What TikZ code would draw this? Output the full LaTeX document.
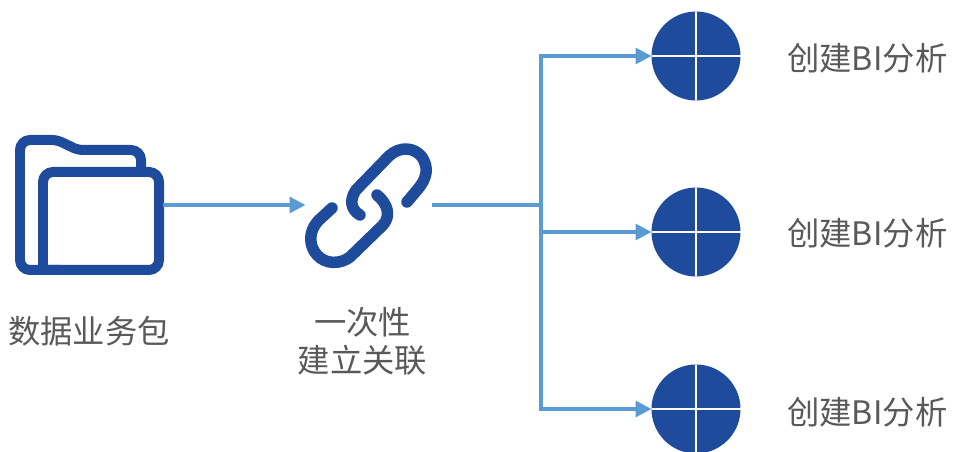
\documentclass[tikz,border=0pt]{standalone}
\usepackage{fontspec}
\setmainfont{Noto Sans CJK SC}
\usetikzlibrary{positioning, arrows.meta}

\definecolor{iconblue}{HTML}{1E4B9B}
\definecolor{lineblue}{HTML}{5B9BD5}
\definecolor{textgray}{HTML}{595959}

\begin{document}
\begin{tikzpicture}[
    x=0.02cm, y=-0.02cm,
    % Styles
    icon/.style={ % Folder and chain outlines
        draw=iconblue,
        line width=0.2cm,
        line cap=round,
        line join=round
    },
    box/.style={ % Invisible frame round an icon
        inner sep=0pt,
        outer sep=0pt
    },
    disc/.style={ % Round target of a branch
        circle,
        fill=iconblue,
        minimum size=1.78cm,
        inner sep=0pt,
        outer sep=0pt
    },
    cross/.style={
        draw=white,
        line width=0.025cm
    },
    trunk/.style={
        draw=lineblue,
        line width=0.065cm
    },
    arrow/.style={
        trunk,
        -{Triangle[length=0.32cm, width=0.32cm]}
    },
    label/.style={
        text=textgray,
        font=\fontsize{18.4pt}{21.7pt}\selectfont,
        align=center,
        inner sep=0pt
    }
]
    \useasboundingbox (0,0) rectangle (953,452);

    % Icon frames and branch point
    \node[box, minimum width=2.96cm, minimum height=2.78cm] (folder) at (89,205) {};
    \node[box, minimum width=2.54cm, minimum height=2.6cm] (chain) at (369,205) {};
    \coordinate (fork) at (541,205);

    % Folder icon
    \draw[icon, rounded corners=0.2cm] (60,270) -- (20,270) -- (20,140) [rounded corners=0.1cm] -- (57,140) -- (78,150) [rounded corners=0.2cm] -- (141,150) -- (141,172);
    \draw[icon, rounded corners=0.2cm] (43,270) -- (43,172) -- (159,172) -- (159,270) -- (43,270);

    % Chain icon
    \draw[icon, line width=0.23cm] (360,215) .. controls (351,210) and (349,200) .. (356,190)
        -- (389,156) .. controls (400,146) and (414,147) .. (422,157)
        .. controls (429,168) and (427,178) .. (418,189) -- (407,202);
    \draw[icon, line width=0.23cm] (332,208) -- (318,221) .. controls (308,232) and (309,246) .. (317,255)
        .. controls (326,265) and (341,264) .. (350,257)
        -- (383,225) .. controls (391,216) and (388,204) .. (377,195);

    % Discs with their white crosses
    \node[disc] (bi1) at (696,56) {};
    \node[disc] (bi2) at (696,232) {};
    \node[disc] (bi3) at (696,409) {};
    \draw[cross] (bi1.north) -- (bi1.south);
    \draw[cross] (bi1.west) -- (bi1.east);
    \draw[cross] (bi2.north) -- (bi2.south);
    \draw[cross] (bi2.west) -- (bi2.east);
    \draw[cross] (bi3.north) -- (bi3.south);
    \draw[cross] (bi3.west) -- (bi3.east);

    % Labels
    \node[label] (folderlabel) [below=0.82cm of folder] {数据业务包};
    \node[label] (chainlabel) [below=0.74cm of chain, xshift=-0.13cm] {一次性\\建立关联};
    \node[label] (bilabel1) [right=0.93cm of bi1, yshift=-0.04cm] {创建BI分析};
    \node[label] (bilabel2) [right=0.93cm of bi2, yshift=-0.02cm] {创建BI分析};
    \node[label] (bilabel3) [right=0.93cm of bi3, yshift=-0.06cm] {创建BI分析};

    % Connectors
    \draw[arrow] (folder.east) -- (chain.west);
    \draw[trunk] (chain.east) -- (fork);
    \draw[arrow] (fork) |- (bi1.west);
    \draw[arrow] (fork) |- (bi2.west);
    \draw[arrow] (fork) |- (bi3.west);
\end{tikzpicture}
\end{document}
